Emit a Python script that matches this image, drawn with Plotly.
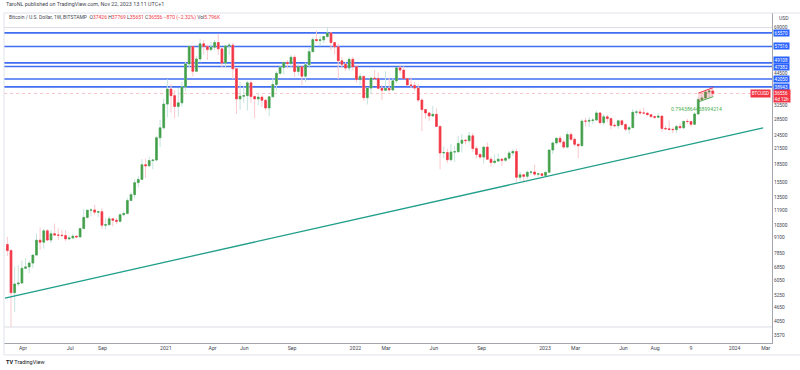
import math
import pandas as pd
import plotly.graph_objects as go

# ---------------- data (weekly BTCUSD, Bitstamp) ----------------
first_week = "2020-03-02"
open_ = [8530, 8040, 5360, 5830, 5880, 6780, 6870, 7130, 7700, 8890, 8720, 9730, 8900, 9460, 9340, 9330, 9290, 9000, 9080, 9240,
         9170, 9940, 11070, 11870, 11900, 11650, 11700, 10270, 10320, 10920, 10770, 10660, 11370, 11500, 13030, 13790, 15480, 15970, 18400, 18200,
         19150, 19250, 23850, 26250, 33000, 38150, 35800, 32250, 33400, 38900, 48600, 57500, 45250, 50970, 59000, 57500, 55800, 57100, 59800, 56200,
         49000, 57800, 58250, 46400, 34700, 35600, 35800, 40500, 35500, 34700, 35300, 34250, 31800, 35400, 39850, 44400, 47000, 49300, 48850, 51800,
         45200, 47250, 43200, 48200, 54700, 61500, 60900, 61300, 63300, 65500, 59700, 57300, 50100, 48400, 46700, 50800, 47300, 41850, 43100, 35100,
         38500, 42400, 42200, 38400, 37700, 38400, 37800, 41300, 46800, 45800, 42200, 39700, 39500, 38500, 34300, 31300, 30300, 29450, 29900, 26600,
         20600, 20700, 19300, 20800, 20850, 22600, 23300, 23200, 24300, 21500, 20300, 19800, 21800, 19400, 18800, 19050, 19400, 19200, 19600, 20600,
         20900, 16300, 16700, 16450, 17100, 17150, 16800, 16850, 16600, 17100, 21200, 22700, 23750, 22900, 21800, 24600, 23500, 22400, 22100, 28000,
         27990, 28200, 28300, 30300, 27600, 29200, 28700, 26900, 26800, 28100, 27100, 25900, 26300, 30500, 30600, 30300, 30250, 29800, 29250, 29050,
         29400, 26100, 26000, 25850, 25800, 26600, 26250, 27950, 27900, 27150, 30000, 34500, 35000, 37050, 37426]
high = [9180, 8170, 6900, 6990, 7300, 7470, 7300, 7740, 9480, 10070, 9950, 9900, 9800, 10430, 9970, 9800, 9800, 9300, 9450, 9300,
        10000, 12000, 11900, 12100, 12500, 11800, 12100, 10950, 11200, 10990, 11000, 11500, 11720, 13350, 14100, 15970, 16480, 19400, 19500, 19900,
        19400, 24300, 28400, 34800, 41950, 40100, 37800, 38500, 40950, 49700, 58350, 58000, 52600, 61800, 61200, 58600, 60100, 61300, 64900, 57000,
        58000, 59500, 59600, 46600, 40900, 39400, 41300, 41400, 36000, 36600, 35900, 34600, 35400, 42600, 45300, 48100, 49500, 50500, 52900, 52900,
        48800, 47400, 49200, 56600, 62900, 67000, 63700, 63000, 69000, 66300, 59800, 59200, 51900, 49500, 51900, 52100, 47600, 44500, 43500, 38900,
        42600, 45900, 44800, 39800, 45300, 42500, 42300, 47000, 48200, 47500, 42400, 42900, 40800, 40000, 34800, 31400, 30600, 32400, 31700, 26900,
        21900, 21500, 22500, 22000, 24300, 24700, 23600, 25200, 25000, 22000, 20600, 21900, 22800, 19900, 20300, 20500, 19700, 19700, 21000, 21400,
        21500, 17200, 16800, 17400, 17400, 18400, 17000, 16950, 17150, 21300, 23000, 23900, 24300, 23400, 25300, 25200, 23900, 22600, 28500, 28900,
        29200, 28800, 31000, 30500, 30000, 29800, 29000, 27600, 28400, 28400, 27400, 26800, 31400, 31300, 31400, 31800, 30400, 29900, 29600, 30200,
        29500, 26800, 28200, 26400, 27000, 27500, 28000, 28600, 28000, 30500, 35200, 35900, 37900, 37950, 37769]
low = [7640, 3850, 4440, 5700, 5860, 6760, 6460, 6800, 7650, 8100, 8200, 8800, 8630, 9270, 8900, 9200, 8800, 8900, 9040, 9060,
       9100, 9900, 10950, 11200, 11300, 11100, 9900, 9880, 10260, 10140, 10400, 10520, 11200, 11400, 12950, 13300, 14800, 15900, 16200, 18000,
       17600, 19000, 21800, 25900, 29000, 30400, 28800, 29200, 32300, 37400, 47100, 43000, 45000, 49300, 53200, 50400, 55000, 55500, 53000, 47000,
       47000, 53000, 42000, 30000, 31200, 33400, 31000, 33300, 28800, 32700, 32100, 31100, 29300, 35300, 37500, 43800, 43900, 46500, 46600, 42800,
       43400, 39600, 40800, 46900, 54400, 59800, 58000, 59400, 62300, 55600, 53300, 42000, 46800, 45600, 45600, 45700, 40600, 39600, 34000, 32900,
       36300, 41700, 38000, 34300, 37400, 37200, 37600, 40500, 44200, 42100, 39200, 38600, 37600, 33700, 25400, 28700, 28000, 29200, 26550, 17600,
       19600, 18700, 19000, 18900, 20700, 20700, 22400, 22600, 20800, 19600, 19500, 18600, 19300, 18100, 18500, 19000, 18200, 18900, 19300, 20000,
       15600, 15800, 15500, 16000, 16700, 16500, 16400, 16400, 16500, 17000, 20400, 22300, 22600, 21400, 21500, 23100, 21900, 19600, 21900, 26600,
       26500, 27200, 28200, 27100, 26900, 27700, 25800, 26300, 26000, 26600, 25400, 24800, 26200, 29500, 29800, 29900, 29600, 28900, 28600, 28800,
       25200, 25800, 25400, 24900, 24900, 26200, 26000, 27200, 26500, 27100, 29900, 33900, 34500, 34800, 35651]
close = [8040, 5360, 5830, 5880, 6780, 6870, 7130, 7700, 8890, 8720, 9730, 8900, 9460, 9340, 9330, 9290, 9000, 9080, 9240, 9170,
         9940, 11070, 11870, 11900, 11650, 11700, 10270, 10320, 10920, 10770, 10660, 11370, 11500, 13030, 13790, 15480, 15970, 18400, 18200, 19150,
         19250, 23850, 26250, 33000, 38150, 35800, 32250, 33400, 38900, 48600, 57500, 45250, 50970, 59000, 57500, 55800, 57100, 59800, 56200, 49000,
         57800, 58250, 46400, 34700, 35600, 35800, 40500, 35500, 34700, 35300, 34250, 31800, 35400, 39850, 44400, 47000, 49300, 48850, 51800, 45200,
         47250, 43200, 48200, 54700, 61500, 60900, 61300, 63300, 65500, 59700, 57300, 50100, 48400, 46700, 50800, 47300, 41850, 43100, 35100, 38500,
         42400, 42200, 38400, 37700, 38400, 37800, 41300, 46800, 45800, 42200, 39700, 39500, 38500, 34300, 31300, 30300, 29450, 29900, 26600, 20600,
         20700, 19300, 20800, 20850, 22600, 23300, 23200, 24300, 21500, 20300, 19800, 21800, 19400, 18800, 19050, 19400, 19200, 19600, 20600, 20900,
         16300, 16700, 16450, 17100, 17150, 16800, 16850, 16600, 17100, 21200, 22700, 23750, 22900, 21800, 24600, 23500, 22400, 22100, 28000, 27990,
         28200, 28300, 30300, 27600, 29200, 28700, 26900, 26800, 28100, 27100, 25900, 26300, 30500, 30600, 30300, 30250, 29800, 29250, 29050, 29400,
         26100, 26000, 25850, 25800, 26600, 26250, 27950, 27900, 27150, 30000, 34500, 35000, 37050, 37426, 36556]

level_values = [65570, 57516, 49108, 47382, 42050, 38943]
level_label_shift = [0, 0, 3, 0, 0, 0]
gray_levels = [69000, 3850]
last_price = 36556
countdown = "4d 12h"

trend_dates = ["2020-02-26 13:00", "2024-02-25"]
trend_values = [5090, 26230]

flag_dates = ["2023-10-23", "2023-11-21"]
flag_top = [36670, 38700]
flag_bottom = [33700, 35470]
flag_text = "0.7943864458994214"

ytick_vals = [3570, 4050, 4650, 5250, 6050, 6850, 7850, 9100, 10300, 11900, 13500, 15500, 18500,
              21500, 24500, 28500, 32500, 44500, 69000]
xtick_vals = ["2020-04-01", "2020-07-01", "2020-09-01", "2021-01-01", "2021-04-01", "2021-06-01",
              "2021-09-01", "2022-01-01", "2022-03-01", "2022-06-01", "2022-09-01", "2023-01-01",
              "2023-03-01", "2023-06-01", "2023-08-01", "2023-10-09", "2024-01-01", "2024-03-01"]
xtick_text = ["Apr", "Jul", "Sep", "2021", "Apr", "Jun", "Sep", "2022", "Mar", "Jun", "Sep", "2023",
              "Mar", "Jun", "Aug", "9", "2024", "Mar"]

# ---------------- figure ----------------
weeks = pd.date_range(first_week, periods=len(close), freq="W-MON")
GREEN = "#43a047"
RED = "#f23645"
BLUE = "#3f6ef0"
FONT = "Roboto"

fig = go.Figure()

# wicks (faded)
fig.add_trace(go.Candlestick(
    x=weeks, open=open_, high=high, low=low, close=close,
    increasing=dict(line=dict(color="#c5e3de", width=1), fillcolor="#c5e3de"),
    decreasing=dict(line=dict(color="#fbc9cd", width=1), fillcolor="#fbc9cd"),
    whiskerwidth=0, hoverinfo="skip"))
# bodies
body_hi = [max(o, c) for o, c in zip(open_, close)]
body_lo = [min(o, c) for o, c in zip(open_, close)]
fig.add_trace(go.Candlestick(
    x=weeks, open=open_, high=body_hi, low=body_lo, close=close,
    increasing=dict(line=dict(color=GREEN, width=0.6), fillcolor=GREEN),
    decreasing=dict(line=dict(color=RED, width=0.6), fillcolor=RED),
    whiskerwidth=0))

# trend line
fig.add_trace(go.Scatter(x=trend_dates, y=trend_values, mode="lines",
                         line=dict(color="#1f9e89", width=1.3), hoverinfo="skip"))

# flag drawing
fig.add_trace(go.Scatter(
    x=[flag_dates[0], flag_dates[1], flag_dates[1], flag_dates[0], flag_dates[0]],
    y=[flag_top[0], flag_top[1], flag_bottom[1], flag_bottom[0], flag_top[0]],
    mode="lines", fill="toself", fillcolor="rgba(242,54,69,0.22)",
    line=dict(width=0), hoverinfo="skip"))
fig.add_trace(go.Scatter(x=flag_dates, y=flag_top, mode="lines",
                         line=dict(color=RED, width=1), hoverinfo="skip"))
fig.add_trace(go.Scatter(x=flag_dates, y=flag_bottom, mode="lines",
                         line=dict(color="#4caf50", width=1), hoverinfo="skip"))

shapes = []
for v in level_values:
    shapes.append(dict(type="line", xref="paper", x0=0, x1=1, yref="y", y0=v, y1=v,
                       line=dict(color=BLUE, width=1.6), layer="below"))
for v in gray_levels:
    shapes.append(dict(type="line", xref="paper", x0=0, x1=1, yref="y", y0=v, y1=v,
                       line=dict(color="#dadde4", width=1), layer="below"))
shapes.append(dict(type="line", xref="paper", x0=0, x1=1, yref="y", y0=last_price, y1=last_price,
                   line=dict(color="rgba(242,54,69,0.3)", width=1, dash="dot"), layer="below"))
# frame lines
shapes.append(dict(type="line", xref="paper", yref="paper", x0=0, x1=1.037, y0=1, y1=1,
                   line=dict(color="#e0e3eb", width=1)))
shapes.append(dict(type="line", xref="paper", yref="paper", x0=0, x1=0, y0=1, y1=-0.036,
                   line=dict(color="#e0e3eb", width=1)))
shapes.append(dict(type="line", xref="paper", yref="paper", x0=0, x1=1.037, y0=-0.036, y1=-0.036,
                   line=dict(color="#e0e3eb", width=1)))

annotations = []
annotations.append(dict(xref="paper", yref="paper", x=0, y=1.026, xanchor="left", yanchor="middle",
                        text="TaroNL published on TradingView.com, Nov 22, 2023 13:11 UTC+1",
                        showarrow=False, font=dict(family=FONT, size=5.4, color="#434651")))
r = lambda s: f"<span style='color:{RED}'>{s}</span>"
legend_txt = ("Bitcoin / U.S. Dollar, 1W, BITSTAMP  O" + r("37426") + " H" + r("37769") + " L" + r("35651")
              + " C" + r("36556") + " " + r("−870 (−2.32%)") + " Vol" + r("5.796K"))
annotations.append(dict(xref="paper", yref="paper", x=0.004, y=0.985, xanchor="left", yanchor="middle",
                        text=legend_txt, showarrow=False, font=dict(family=FONT, size=5, color="#434651")))
annotations.append(dict(xref="paper", yref="paper", x=1.016, y=0.985, xanchor="center", yanchor="middle",
                        text="USD", showarrow=False, font=dict(family=FONT, size=5, color="#434651")))
for v, s in zip(level_values, level_label_shift):
    annotations.append(dict(xref="paper", yref="y", x=1.0015, y=math.log10(v), yshift=s,
                            xanchor="left", yanchor="middle", text=str(v), showarrow=False,
                            bgcolor="#2962ff", borderpad=0.6,
                            font=dict(family=FONT, size=4.6, color="white")))
annotations.append(dict(xref="paper", yref="y", x=1.0015, y=math.log10(last_price), yshift=-3,
                        xanchor="left", yanchor="middle", text=f"{last_price}<br>{countdown}",
                        showarrow=False, bgcolor=RED, borderpad=0.6, align="left",
                        font=dict(family=FONT, size=4.6, color="white")))
annotations.append(dict(xref="paper", yref="y", x=0.9985, y=math.log10(last_price),
                        xanchor="right", yanchor="middle", text="BTCUSD", showarrow=False,
                        bgcolor=RED, borderpad=0.8, font=dict(family=FONT, size=4.6, color="white")))
annotations.append(dict(xref="x", yref="y", x="2023-10-20", y=math.log10(31500),
                        xanchor="center", yanchor="middle", text=flag_text, showarrow=False,
                        font=dict(family=FONT, size=5.2, color="#4caf50")))
annotations.append(dict(xref="paper", yref="paper", x=0, y=-0.058, xanchor="left", yanchor="middle",
                        text="<b>TV</b> TradingView", showarrow=False,
                        font=dict(family=FONT, size=5.5, color="#131722")))

fig.update_layout(
    width=800, height=370,
    margin=dict(l=4, r=28, t=13, b=27),
    paper_bgcolor="white", plot_bgcolor="white",
    showlegend=False,
    font=dict(family=FONT, size=5.5, color="#434651"),
    shapes=shapes, annotations=annotations,
    xaxis=dict(type="date", range=["2020-02-24 12:00", "2024-03-13"],
               rangeslider=dict(visible=False),
               tickvals=xtick_vals, ticktext=xtick_text, ticks="",
               tickfont=dict(family=FONT, size=5.2, color="#434651"),
               showgrid=False, zeroline=False, showline=True, linecolor="#a3a6af", linewidth=1),
    yaxis=dict(type="log", side="right",
               range=[math.log10(3300), math.log10(79400)],
               tickvals=ytick_vals, ticktext=[str(v) for v in ytick_vals], ticks="",
               tickfont=dict(family=FONT, size=4.8, color="#434651"),
               showgrid=False, zeroline=False, showline=True, linecolor="#a3a6af", linewidth=1),
)

fig.write_html("out.html", config={"displayModeBar": False},
               post_script="document.body.style.margin='0';document.body.style.overflow='hidden';")
